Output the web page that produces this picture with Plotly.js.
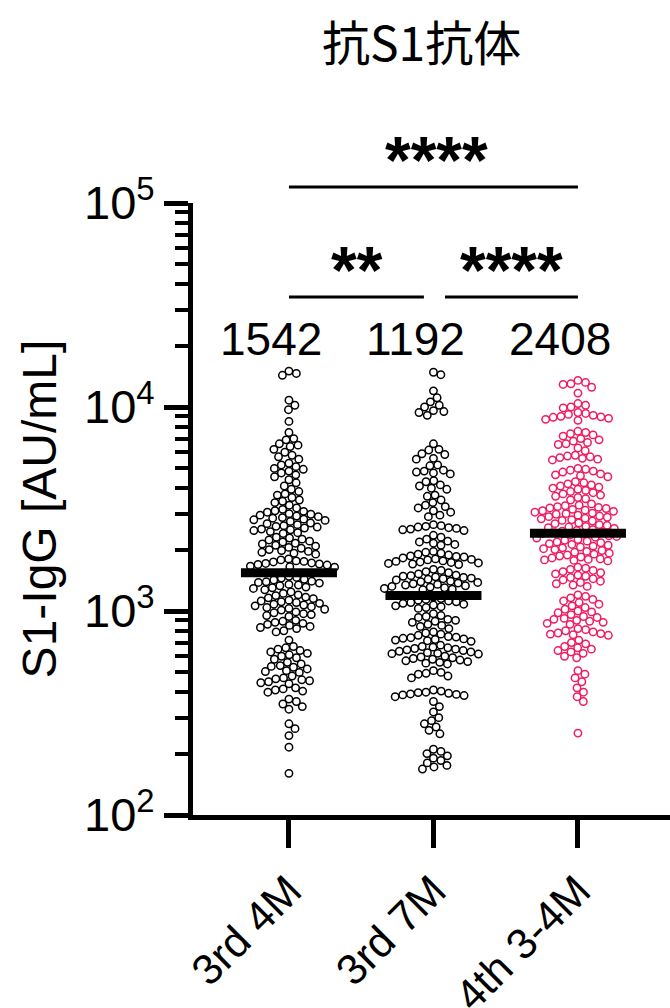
<!DOCTYPE html>
<html>
<head>
<meta charset="utf-8">
<script src="https://cdn.plot.ly/plotly-3.0.1.min.js"></script>
<style>html,body{margin:0;padding:0;background:#fff;}#chart{width:670px;height:1008px;}</style>
</head>
<body>
<div id="chart"></div>
<script>
// ---------------- data ----------------
const categories = ["3rd 4M", "3rd 7M", "4th 3-4M"];
const medians = [1542, 1192, 2408];
const medianLabels = ["1542", "1192", "2408"];

const group1 = [
  15000, 14600, 14300,
  10800, 10200, 9700,
  8500,
  7500, 7000, 6900, 6600, 6500, 6400,
  6200, 6000, 5800, 5700, 5550,
  5300, 5200, 5100, 5000, 4950, 4850, 4750, 4650, 4550,
  4400, 4250, 4100, 3950,
  3850, 3750, 3700, 3600, 3500, 3450, 3400, 3300,
  3200, 3150, 3100, 3080, 3050, 3000, 2980, 2950, 2920, 2900, 2870, 2850, 2820, 2800,
  2780, 2750, 2700, 2680, 2650, 2620, 2600, 2580, 2550, 2520, 2500, 2480, 2450, 2420, 2400,
  2300, 2280, 2250, 2230, 2200, 2180, 2150, 2130, 2100, 2080, 2050, 2030, 2000, 1980, 1960, 1940, 1920, 1900,
  1800, 1780, 1760, 1750, 1740, 1720, 1710, 1700, 1690, 1680, 1660, 1650, 1640,
  1480, 1460, 1450, 1430, 1420, 1400, 1390, 1380, 1370, 1350, 1340, 1330, 1310, 1300, 1290, 1270,
  1240, 1220, 1200, 1190, 1170, 1160, 1150, 1130, 1120, 1110, 1100, 1090, 1080, 1070, 1060, 1050, 1040, 1030, 1020, 1010,
  990, 980, 970, 960, 950, 940,
  900, 890, 880, 870, 860, 850, 840, 830, 820, 800, 790,
  720,
  670, 660, 650, 640, 630, 620, 610, 600, 590, 580,
  560, 550, 540, 535, 530, 520, 510, 505, 500,
  480, 470, 465, 460, 455, 450, 445, 440,
  420, 415, 410, 405, 400,
  370, 360, 350, 340, 330,
  280, 265, 245,
  215,
  160
];

const group2 = [
  14800, 14400,
  12000, 11100, 10600, 10200, 10000, 9600, 9500, 9400, 9100,
  6600, 6200, 6150, 5900, 5850, 5600, 5550,
  5200, 5150, 4900, 4850, 4800, 4750, 4700,
  4350, 4300, 4150, 4100, 4000, 3950,
  3700, 3650, 3500, 3400, 3300, 3250, 3200, 3100, 3050, 2950, 2900,
  2650, 2620, 2600, 2580, 2560, 2540, 2520, 2500, 2480,
  2350, 2300, 2250, 2200, 2180, 2150, 2120, 2100,
  1960, 1940, 1920, 1900, 1880, 1860, 1850, 1840, 1820, 1800, 1790, 1780, 1760, 1750, 1740, 1730, 1720, 1710, 1700, 1690,
  1600, 1580, 1560, 1540, 1520, 1500, 1490, 1480, 1470, 1460, 1450, 1440, 1430, 1420,
  1400, 1390, 1380, 1370, 1360, 1350, 1340, 1330, 1320, 1310, 1300, 1290, 1280, 1270,
  1170, 1150, 1140, 1130, 1120, 1110, 1100, 1090, 1080, 1070, 1060, 1050, 1040, 1030,
  970, 950, 940, 930, 910, 900, 890, 880, 860, 850, 840, 820,
  790, 780, 770, 760, 750, 745, 740, 735, 730, 725, 720, 715, 710,
  680, 670, 665, 660, 655, 650, 645, 640, 635, 630, 625, 620, 618, 615,
  600, 595, 590, 585, 580, 575, 570, 565, 560, 555, 550,
  510, 500, 495, 490, 480, 470,
  410, 405, 400, 398, 395, 392, 390, 388, 385, 380,
  360, 340,
  320, 300, 290, 280, 270, 260, 250,
  210, 205, 200, 195, 190, 185, 180, 175, 172, 168
];

const group3 = [
  13500, 13200, 13000, 12900, 12500, 11700,
  10400, 10200, 10000, 9900, 9400, 9300, 9200, 9100, 9000, 8950, 8900, 8800, 8700, 8600,
  7600, 7500, 7400, 7300, 7200, 7000, 6900, 6800, 6700, 6600, 6550,
  6300, 6100,
  5800, 5750, 5700, 5650, 5600, 5550, 5500,
  5000, 4950, 4900, 4850, 4800, 4700, 4650, 4600, 4550,
  4300, 4250, 4200, 4150, 4100, 4050, 4000, 3950, 3900, 3850, 3800, 3750, 3700, 3650, 3600, 3550, 3500,
  3350, 3300, 3280, 3250, 3220, 3200, 3180, 3150, 3120, 3100, 3080, 3050, 3020, 3000, 2980, 2950, 2920, 2900, 2880, 2850, 2830, 2800, 2780, 2760,
  2700, 2680, 2650, 2630, 2600, 2580, 2560, 2540,
  2500, 2480, 2460, 2440, 2420, 2400, 2380, 2360, 2340, 2320, 2300, 2280,
  2240, 2220, 2200, 2180, 2160, 2140, 2120, 2100, 2080, 2060, 2040, 2020, 2000, 1980, 1960, 1940, 1920, 1900, 1880, 1860, 1840, 1820, 1800, 1790, 1780, 1770, 1760,
  1640, 1620, 1600, 1580, 1560, 1540, 1520, 1500, 1480, 1460, 1440, 1420, 1400, 1380, 1360, 1340, 1320,
  1200, 1180, 1160, 1140, 1120, 1100, 1080, 1060, 1040, 1020, 1000, 990, 980, 960, 940, 930, 920, 910, 900, 890, 880, 870, 860,
  820, 810, 800, 790, 780, 775, 770, 765, 760,
  720, 700, 690, 670, 660, 650, 640, 630, 620, 600, 590,
  510, 490, 470, 450,
  420, 400, 380, 360,
  252
];

const groups = [group1, group2, group3];
const groupColors = ["#000000", "#000000", "rgb(240,28,96)"];

const yTickVals = [100, 1000, 10000, 100000];
const yTickText = ["10<sup>2</sup>", "10<sup>3</sup>", "10<sup>4</sup>", "10<sup>5</sup>"];

// ---------------- geometry ----------------
const W = 670, H = 1008;
const M = {l: 193, r: 0, t: 203, b: 193};
const plotW = W - M.l - M.r, plotH = H - M.t - M.b;
const xRange = [-0.664, 2.637];
const yRangeLog = [2, 5];
const pxPerX = plotW / (xRange[1] - xRange[0]);
const pxPerDec = plotH / (yRangeLog[1] - yRangeLog[0]);

// beeswarm layout in pixel space (x offsets computed, y from the values)
function swarm(vals, D) {
  const pts = vals.map(v => ({v: v, y: (yRangeLog[1] - Math.log10(v)) * pxPerDec, x: 0}));
  pts.sort((a, b) => a.y - b.y);
  const placed = [];
  for (const p of pts) {
    const near = placed.filter(q => Math.abs(q.y - p.y) < D);
    const cands = [0];
    for (const q of near) {
      const dy = p.y - q.y;
      const dx = Math.sqrt(D * D - dy * dy);
      cands.push(q.x + dx, q.x - dx);
    }
    cands.sort((a, b) => Math.abs(a) - Math.abs(b));
    for (const c of cands) {
      let ok = true;
      for (const q of near) {
        const dx = c - q.x, dy = p.y - q.y;
        if (dx * dx + dy * dy < D * D - 0.01) { ok = false; break; }
      }
      if (ok) { p.x = c; break; }
    }
    placed.push(p);
  }
  return pts;
}

const traces = [];
groups.forEach((g, i) => {
  const pts = swarm(g, 7.8);
  traces.push({
    type: "scatter", mode: "markers",
    x: pts.map(p => i + p.x / pxPerX),
    y: pts.map(p => p.v),
    marker: {symbol: "circle-open", size: 7.4, color: groupColors[i], line: {width: 1.5, color: groupColors[i]}},
    hoverinfo: "y", showlegend: false, cliponaxis: false
  });
});

// median bars
const halfBar = 48 / pxPerX;
const mx = [], my = [];
medians.forEach((m, i) => { mx.push(i - halfBar, i + halfBar, null); my.push(m, m, null); });
traces.push({type: "scatter", mode: "lines", x: mx, y: my, line: {color: "#000", width: 9}, showlegend: false, hoverinfo: "skip"});

const font = "Liberation Sans, Arial, Helvetica, sans-serif";
const pxToPaperY = py => (H - M.b - py) / plotH;
const pxToPaperX = px => (px - M.l) / plotW;

const annotations = [];
medianLabels.forEach((t, i) => {
  annotations.push({text: t, x: i - 18 / pxPerX, xref: "x", y: pxToPaperY(339), yref: "paper",
    showarrow: false, font: {family: font, size: 46, color: "#000"}, xanchor: "center", yanchor: "middle"});
});
annotations.push({text: "<b>****</b>", x: 1.02, xref: "x", y: pxToPaperY(160), yref: "paper", showarrow: false,
  font: {family: font, size: 66, color: "#000"}, xanchor: "center", yanchor: "middle"});
annotations.push({text: "<b>**</b>", x: 0.47, xref: "x", y: pxToPaperY(270), yref: "paper", showarrow: false,
  font: {family: font, size: 66, color: "#000"}, xanchor: "center", yanchor: "middle"});
annotations.push({text: "<b>****</b>", x: 1.54, xref: "x", y: pxToPaperY(270), yref: "paper", showarrow: false,
  font: {family: font, size: 66, color: "#000"}, xanchor: "center", yanchor: "middle"});
annotations.push({text: "抗S1抗体", x: pxToPaperX(421), xref: "paper", y: pxToPaperY(40), yref: "paper", showarrow: false,
  font: {family: "Noto Sans CJK JP, sans-serif", size: 48, color: "#000"}, xanchor: "center", yanchor: "middle"});

const shapes = [
  {type: "line", xref: "x", yref: "paper", x0: 0, x1: 2, y0: pxToPaperY(187), y1: pxToPaperY(187), line: {color: "#000", width: 3}},
  {type: "line", xref: "x", yref: "paper", x0: 0, x1: 0.934, y0: pxToPaperY(297), y1: pxToPaperY(297), line: {color: "#000", width: 3}},
  {type: "line", xref: "x", yref: "paper", x0: 1.08, x1: 2, y0: pxToPaperY(297), y1: pxToPaperY(297), line: {color: "#000", width: 3}}
];

const minorVals = [];
[100, 1000, 10000].forEach(d => { for (let k = 2; k <= 9; k++) minorVals.push(k * d); });

const layout = {
  width: W, height: H, margin: M,
  paper_bgcolor: "#fff", plot_bgcolor: "#fff",
  showlegend: false,
  font: {family: font, color: "#000"},
  xaxis: {
    range: xRange, tickmode: "array", tickvals: [0, 1, 2], ticktext: categories,
    showline: true, linewidth: 5, linecolor: "#000", ticks: "outside", ticklen: 28, tickwidth: 5, tickcolor: "#000",
    tickangle: -45, tickfont: {family: font, size: 43, color: "#000"},
    showgrid: false, zeroline: false
  },
  yaxis: {
    type: "log", range: yRangeLog, tickmode: "array", tickvals: yTickVals, ticktext: yTickText,
    showline: true, linewidth: 5, linecolor: "#000", ticks: "outside", ticklen: 24, tickwidth: 5, tickcolor: "#000",
    tickfont: {family: font, size: 47, color: "#000"},
    minor: {tickmode: "array", tickvals: minorVals, ticks: "outside", ticklen: 13, tickwidth: 4, tickcolor: "#000", showgrid: false},
    showgrid: false, zeroline: false,
    title: {text: "S1-IgG [AU/mL]", font: {family: font, size: 48, color: "#000"}, standoff: 14}
  },
  annotations: annotations,
  shapes: shapes
};

Plotly.newPlot("chart", traces, layout, {displayModeBar: false, staticPlot: true});
</script>
</body>
</html>
